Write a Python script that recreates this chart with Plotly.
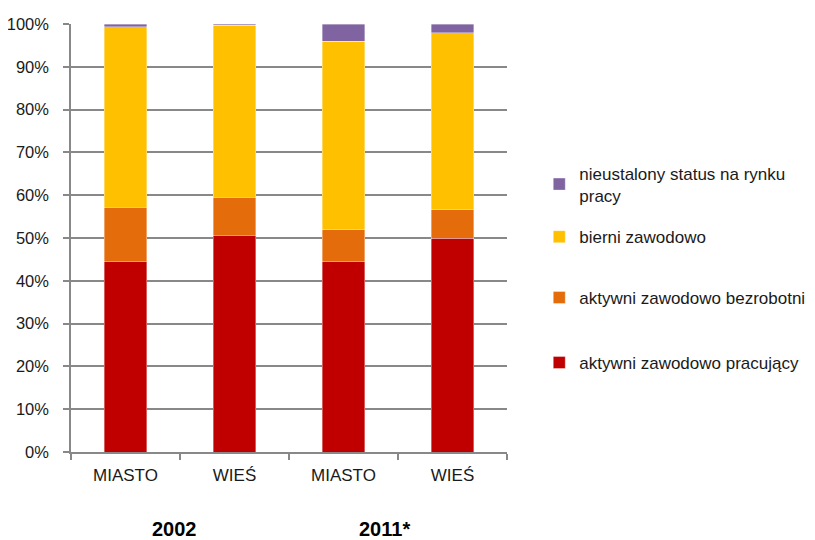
import plotly.graph_objects as go

categories = ["MIASTO", "WIEŚ", "MIASTO", "WIEŚ"]
years = ["2002", "2011*"]
series_names = [
    "aktywni zawodowo pracujący",
    "aktywni zawodowo bezrobotni",
    "bierni zawodowo",
    "nieustalony status na rynku<br>pracy",
]
pracujacy = [44.4, 50.7, 44.5, 50.0]
bezrobotni = [12.8, 8.8, 7.4, 6.6]
bierni = [42.2, 40.2, 44.1, 41.3]
nieustalony = [0.6, 0.3, 4.0, 2.1]
colors = ["#C00000", "#E46C0A", "#FFC000", "#8064A2"]
y_ticks = list(range(0, 101, 10))

legend_ids = ["legend", "legend2", "legend3", "legend4"]
legend_y = [0.208, 0.360, 0.502, 0.625]

xs = list(range(len(categories)))
fig = go.Figure()
for name, vals, col, lid in zip(series_names, [pracujacy, bezrobotni, bierni, nieustalony], colors, legend_ids):
    fig.add_trace(go.Bar(
        x=xs, y=vals, name=name, legend=lid, showlegend=True,
        marker=dict(color=col, line=dict(color="rgba(255,255,255,0.6)", width=0.6)),
    ))

font = "Liberation Sans, Arial, sans-serif"
leg_common = dict(x=1.074, xanchor="left", yanchor="middle", itemwidth=30, visible=True,
                  bgcolor="rgba(0,0,0,0)", font=dict(size=17, family=font, color="#1a1a1a"))
fig.update_layout(
    barmode="stack",
    bargap=0.61,
    width=815, height=540,
    margin=dict(l=63, r=316, t=16, b=96),
    plot_bgcolor="white", paper_bgcolor="white",
    showlegend=True,
    font=dict(family=font, size=17, color="#1a1a1a"),
    xaxis=dict(
        range=[-0.5, 3.5], tickmode="array", tickvals=xs, ticktext=categories,
        showgrid=False, showline=True, linecolor="#888888", linewidth=1.5,
        ticks="", zeroline=False, automargin=False,
        minor=dict(tickmode="array", tickvals=[i - 0.5 for i in range(len(categories) + 1)],
                   ticks="outside", ticklen=6, tickcolor="#888888", tickwidth=1.5, showgrid=False),
        ticklabelstandoff=7,
    ),
    yaxis=dict(
        range=[0, 100], tickmode="array", tickvals=y_ticks,
        ticktext=[f"{v}%" for v in y_ticks], tickfont=dict(size=16.5),
        showgrid=True, gridcolor="#888888", gridwidth=1.5,
        showline=True, linecolor="#888888", linewidth=1.5,
        ticks="outside", ticklen=6, tickcolor="#888888", tickwidth=1.5,
        zeroline=False, ticklabelstandoff=11, automargin=False,
    ),
)
for lid, ly in zip(legend_ids, legend_y):
    fig.update_layout({lid: dict(leg_common, y=ly)})

for xp, yr in zip([0.2385, 0.72], years):
    fig.add_annotation(
        x=xp, xref="paper", y=-0.18, yref="paper", yanchor="middle", xanchor="center",
        text=f"<b>{yr}</b>", showarrow=False, font=dict(size=20, family=font, color="#000000"),
    )

fig.write_html("out.html")
